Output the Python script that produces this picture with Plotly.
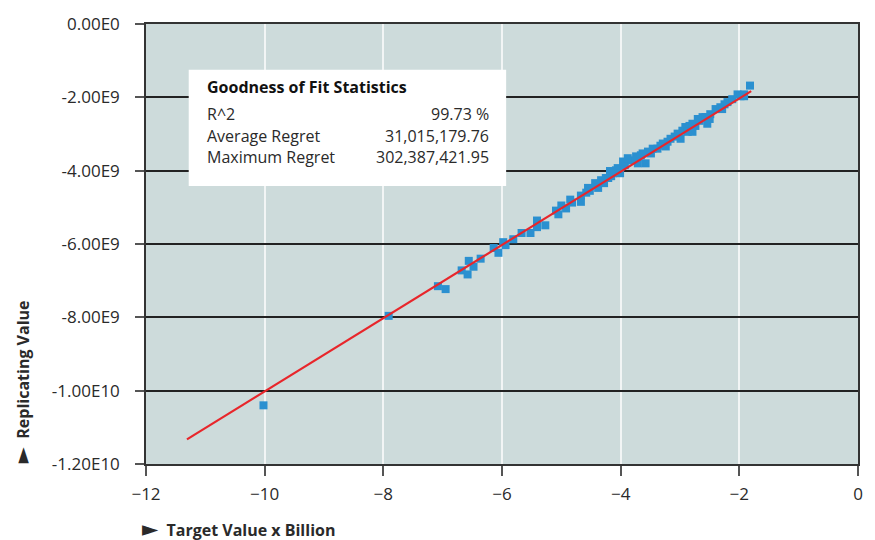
import plotly.graph_objects as go

# Scatter data: target value (billions) vs replicating value
target_x = [-10.02, -7.91, -7.08, -6.95, -6.68, -6.58, -6.56, -6.48, -6.36, -6.14,
            -6.06, -5.98, -5.94, -5.81, -5.67, -5.52, -5.41, -5.41, -5.27, -5.09,
            -5.05, -5.00, -4.92, -4.85, -4.82, -4.67, -4.67, -4.58, -4.52, -4.43,
            -4.38, -4.33, -4.25, -4.21, -4.16, -4.13, -4.08, -4.05, -3.93, -3.83,
            -3.74, -3.66, -3.58, -3.54, -3.46, -3.38, -3.33, -3.21, -3.16, -3.09,
            -3.04, -2.96, -2.91, -2.84, -2.79, -2.74, -2.67, -2.62, -2.57, -2.49,
            -2.40, -2.32, -2.25, -2.20, -2.12, -2.03, -1.98, -1.92, -1.92, -1.82,
            -4.55, -3.96, -3.63, -3.29, -2.87, -2.50, -2.70, -2.29, -4.18, -3.88,
            -4.28, -4.01, -3.71, -3.49, -3.24, -2.99, -2.79, -2.54]
replicating_y = [-10.40, -7.96, -7.15, -7.23, -6.72, -6.83, -6.46, -6.62, -6.40, -6.11,
                 -6.24, -5.95, -6.03, -5.87, -5.70, -5.70, -5.36, -5.54, -5.49, -5.09,
                 -5.19, -4.95, -5.03, -4.79, -4.87, -4.85, -4.68, -4.60, -4.55, -4.34,
                 -4.47, -4.26, -4.20, -4.20, -4.15, -4.07, -3.99, -3.93, -3.85, -3.72,
                 -3.61, -3.58, -3.80, -3.48, -3.40, -3.40, -3.32, -3.21, -3.13, -3.07,
                 -2.99, -2.91, -2.81, -2.78, -2.72, -2.78, -2.64, -2.54, -2.54, -2.46,
                 -2.32, -2.27, -2.19, -2.13, -2.05, -1.92, -1.97, -1.97, -1.92, -1.68,
                 -4.47, -3.75, -3.53, -3.26, -2.94, -2.59, -2.59, -2.32, -4.01, -3.66,
                 -4.34, -4.07, -3.80, -3.53, -3.34, -3.13, -2.94, -2.72]
replicating_y = [v * 1e9 for v in replicating_y]

# Fitted line
fit_x = [-11.31, -1.80]
fit_y = [-11.33e9, -1.83e9]

# Axis ticks
x_ticks = [-12, -10, -8, -6, -4, -2, 0]
y_tickvals = [0, -2e9, -4e9, -6e9, -8e9, -10e9, -12e9]
y_ticktext = ["0.00E0", "-2.00E9", "-4.00E9", "-6.00E9", "-8.00E9", "-1.00E10", "-1.20E10"]

# Statistics box
stats_title = "Goodness of Fit Statistics"
stats_labels = ["R^2", "Average Regret", "Maximum Regret"]
stats_values = ["99.73 %", "31,015,179.76", "302,387,421.95"]

FONT = "Open Sans"
TXT = "#2a2a2a"
ARROW = '<span style="font-family:DejaVu Sans;font-size:21px">►</span>'

fig = go.Figure()
fig.add_trace(go.Scatter(x=target_x, y=replicating_y, mode="markers",
                         marker=dict(symbol="square", size=8, color="#2b90d0",
                                     line=dict(width=0)),
                         showlegend=False))
fig.add_trace(go.Scatter(x=fit_x, y=fit_y, mode="lines",
                         line=dict(color="#e8262b", width=2.2),
                         showlegend=False))

# white box
fig.add_shape(type="rect", xref="x", yref="y",
              x0=-11.28, x1=-5.93, y0=-1.25e9, y1=-4.42e9,
              fillcolor="white", line=dict(width=0), layer="above")

annotations = [dict(x=-11.01, y=-1.73e9, xref="x", yref="y", text="<b>" + stats_title + "</b>",
                    showarrow=False, xanchor="left", yanchor="middle",
                    font=dict(family=FONT, size=16, color="#111"))]
row_y = [-2.46e9, -3.05e9, -3.64e9]
for lab, val, yy in zip(stats_labels, stats_values, row_y):
    annotations.append(dict(x=-11.01, y=yy, xref="x", yref="y", text=lab, showarrow=False,
                            xanchor="left", yanchor="middle",
                            font=dict(family=FONT, size=16, color=TXT)))
    annotations.append(dict(x=-6.19, y=yy, xref="x", yref="y", text=val, showarrow=False,
                            xanchor="right", yanchor="middle",
                            font=dict(family=FONT, size=16, color=TXT)))

annotations.append(dict(x=-0.008, y=-0.148, xref="paper", yref="paper",
                        text=ARROW + "  <b>Target Value x Billion</b>", showarrow=False,
                        xanchor="left", yanchor="middle",
                        font=dict(family=FONT, size=16, color=TXT)))
annotations.append(dict(x=-0.173, y=-0.002, xref="paper", yref="paper",
                        text=ARROW + "  <b>Replicating Value</b>", showarrow=False, textangle=-90,
                        xanchor="center", yanchor="bottom",
                        font=dict(family=FONT, size=16, color=TXT)))

fig.update_layout(
    width=875, height=540,
    margin=dict(l=146, r=12, t=19, b=76),
    paper_bgcolor="white", plot_bgcolor="#cddbdb",
    font=dict(family=FONT, size=16, color=TXT),
    annotations=annotations,
    xaxis=dict(range=[-12, 0], tickvals=x_ticks, showgrid=True, gridcolor="#f2f5f5",
               gridwidth=2, zeroline=False, showline=True, linecolor="#333", linewidth=1.5,
               mirror=True, ticks="outside", ticklen=10, tickcolor="#555", tickwidth=1.5,
               ticklabelstandoff=4,
               tickfont=dict(family=FONT, size=17, color=TXT)),
    yaxis=dict(range=[-12e9, 0], tickvals=y_tickvals, ticktext=y_ticktext, showgrid=True,
               gridcolor="#222", gridwidth=1.5, zeroline=False, showline=True,
               linecolor="#333", linewidth=1.5, mirror=True, ticks="outside", ticklen=9,
               tickcolor="#555", tickwidth=1.5, ticklabelstandoff=12,
               tickfont=dict(family=FONT, size=17, color=TXT)),
)

fig.write_html("out.html", config={"displayModeBar": False},
               post_script="document.body.style.margin='0';")
